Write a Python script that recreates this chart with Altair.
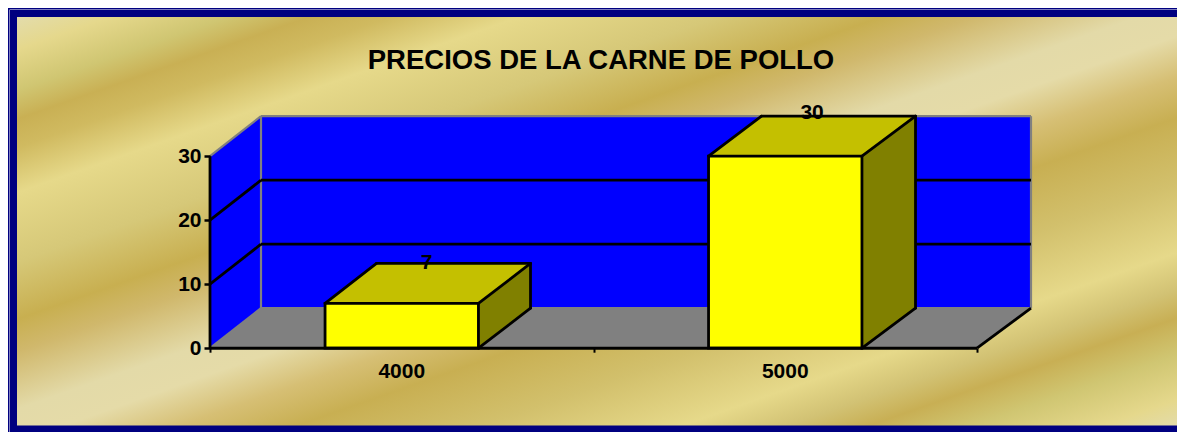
import altair as alt
import pandas as pd

# ---- values
TITLE = "PRECIOS DE LA CARNE DE POLLO"
CATEGORIES = ["4000", "5000"]
VALUES = [7, 30]
Y_TICKS = [0, 10, 20, 30]
X_BOUNDS = [0, 1, 2]

# ---- layout: one category = 383.5 px, one value unit = 6.4 px
W, H = 1169, 424
CAT_PX, UNIT_PX = 383.5, 6.4
LEFT_PX, ZERO_PX = 210.0, 348.2  # page pixels of category 0 / value 0
X_DOMAIN = [(8 - LEFT_PX) / CAT_PX, (8 + W - LEFT_PX) / CAT_PX]
Y_DOMAIN = [(ZERO_PX - (8 + H)) / UNIT_PX, (ZERO_PX - 8) / UNIT_PX]
DEPTH_V = 40 / UNIT_PX
BAR_HALF = 0.2
FONT = "Liberation Sans"
BLUE, GREY = "#0000FF", "#808080"
EDGE = 2.8


def dx(c):  # horizontal position of the back plane
    return (51 + 385 * c) / CAT_PX


def flat(c0, c1, v, group, fill):
    """horizontal parallelogram between front and back planes"""
    return [
        dict(x=c0, y=v, y2=v, g=group, fill=fill),
        dict(x=dx(c0), y=v + DEPTH_V, y2=v, g=group, fill=fill),
        dict(x=c1, y=v + DEPTH_V, y2=v, g=group, fill=fill),
        dict(x=dx(c1), y=v + DEPTH_V, y2=v + DEPTH_V, g=group, fill=fill),
    ]


def side(c, v0, v1, group, fill):
    """vertical slanted face running from the front plane to the back plane"""
    return [
        dict(x=c, y=v1, y2=v0, g=group, fill=fill),
        dict(x=dx(c), y=v1 + DEPTH_V, y2=v0 + DEPTH_V, g=group, fill=fill),
    ]


def seg(c0, v0, c1, v1):
    return dict(x=c0, y=v0, x2=c1, y2=v1)


top_v = max(Y_TICKS)
end_c = X_BOUNDS[-1]

# walls and floor
wall_rows = []
wall_rows += [
    dict(x=dx(0), y=top_v + DEPTH_V, y2=DEPTH_V, g="back", fill=BLUE),
    dict(x=dx(end_c), y=top_v + DEPTH_V, y2=DEPTH_V, g="back", fill=BLUE),
]
wall_rows += side(0, 0, top_v, "left", BLUE)
wall_rows += flat(0, end_c, 0, "floor", GREY)

grey_edges = [
    seg(0, top_v, dx(0), top_v + DEPTH_V),
    seg(dx(0), top_v + DEPTH_V, dx(end_c), top_v + DEPTH_V),
    seg(dx(end_c), top_v + DEPTH_V, dx(end_c), DEPTH_V),
    seg(dx(0), top_v + DEPTH_V, dx(0), DEPTH_V),
    seg(dx(0), DEPTH_V, dx(end_c), DEPTH_V),
    seg(0, 0, dx(0), DEPTH_V),
]

black_edges = [
    seg(0, 0, 0, top_v),
    seg(end_c, 0, dx(end_c), DEPTH_V),
]
for t in Y_TICKS[1:-1]:
    black_edges.append(seg(0, t, dx(0), t + DEPTH_V))
    black_edges.append(seg(dx(0), t + DEPTH_V, dx(end_c), t + DEPTH_V))

# bars
front_rows, face_rows, bar_edges, label_rows = [], [], [], []
for i, (cat, val) in enumerate(zip(CATEGORIES, VALUES)):
    mid = i + 0.5
    c0, c1 = mid - BAR_HALF, mid + BAR_HALF
    front_rows.append(dict(x=c0, x2=c1, y=val, y2=0))
    face_rows += flat(c0, c1, val, f"top{i}", "#C4C000")
    face_rows += side(c1, 0, val, f"side{i}", "#808000")
    bar_edges += [
        seg(c0, val, dx(c0), val + DEPTH_V),
        seg(dx(c0), val + DEPTH_V, dx(c1), val + DEPTH_V),
        seg(c1, val, dx(c1), val + DEPTH_V),
        seg(dx(c1), val + DEPTH_V, dx(c1), DEPTH_V),
        seg(c1, 0, dx(c1), DEPTH_V),
    ]
    lift = 0.45 if val == 30 else 0
    shift = 0.07 if val == 30 else 0.065
    label_rows.append(dict(x=mid + shift, y=val + DEPTH_V + lift, text=str(val)))

cat_rows = [dict(x=i + 0.5, y=-3.75, text=c) for i, c in enumerate(CATEGORIES)]
axis_rows = [seg(0, 0, end_c, 0)]

X_SCALE = alt.Scale(domain=X_DOMAIN, range=[0, W], nice=False, zero=False)
Y_SCALE = alt.Scale(domain=Y_DOMAIN, range=[H, 0], nice=False, zero=False)
X_AXIS = alt.Axis(
    values=X_BOUNDS, labels=False, domain=False, grid=False, ticks=True, tickSize=4,
    tickColor="#000000", tickWidth=2, offset=-(8 + H - ZERO_PX), zindex=1, orient="bottom",
)
Y_AXIS = alt.Axis(
    values=Y_TICKS, domain=False, grid=False, tickSize=6, tickColor="#000000", tickWidth=2.5,
    labelFont=FONT, labelFontSize=21, labelFontWeight="bold", labelColor="#000000",
    labelPadding=3, offset=-(LEFT_PX - 8), zindex=1, orient="left",
)


def ex():
    return alt.X("x:Q", scale=X_SCALE, title=None, axis=X_AXIS)


def ey():
    return alt.Y("y:Q", scale=Y_SCALE, title=None, axis=Y_AXIS)


def frame_rect(x0, y0, x1, y1, fill):
    return alt.Chart(pd.DataFrame({"k": [0]})).mark_rect(fill=fill).encode(
        x=alt.value(x0 - 8), x2=alt.value(x1 - 8), y=alt.value(y0 - 8), y2=alt.value(y1 - 8)
    )


GOLD = [
    (0.00, "#E3DCAC"), (0.04, "#E5D88C"), (0.09, "#D0C672"), (0.125, "#C9B054"),
    (0.16, "#D0BA60"), (0.215, "#E6D98A"), (0.30, "#D6C878"), (0.37, "#C8AF50"),
    (0.41, "#D0B86C"), (0.48, "#E3DAA8"), (0.52, "#E5DBA8"), (0.57, "#D6BF74"),
    (0.62, "#C8AF52"), (0.70, "#D2C06C"), (0.785, "#E6D98A"), (0.83, "#D2C274"),
    (0.865, "#C8AF54"), (0.91, "#D0C672"), (0.965, "#E5D88C"), (1.00, "#E3DCAC"),
]
gold_fill = alt.LinearGradient(
    gradient="linear", x1=0, y1=0, x2=1, y2=1,
    stops=[alt.GradientStop(offset=o, color=c) for o, c in GOLD],
)

background = [
    frame_rect(8, 8, 1185, 432, "#FFFFFF"),
    frame_rect(8, 8, 1185, 9.5, "#000080"),
    frame_rect(8, 8, 9.5, 432, "#000080"),
    frame_rect(10, 10, 1185, 432, "#000080"),
    frame_rect(17, 17, 1185, 425.5, gold_fill),
]

walls = alt.Chart(pd.DataFrame(wall_rows)).mark_area(orient="vertical", opacity=1).encode(
    x=ex(), y=ey(), y2="y2:Q", detail="g:N", fill=alt.Fill("fill:N", scale=None)
)
greys = alt.Chart(pd.DataFrame(grey_edges)).mark_rule(color=GREY, strokeWidth=2.2).encode(
    x=ex(), y=ey(), x2="x2:Q", y2="y2:Q"
)
blacks = alt.Chart(pd.DataFrame(black_edges)).mark_rule(color="#000000", strokeWidth=EDGE).encode(
    x=ex(), y=ey(), x2="x2:Q", y2="y2:Q"
)
faces = alt.Chart(pd.DataFrame(face_rows)).mark_area(orient="vertical", opacity=1).encode(
    x=ex(), y=ey(), y2="y2:Q", detail="g:N", fill=alt.Fill("fill:N", scale=None)
)
fronts = alt.Chart(pd.DataFrame(front_rows)).mark_rect(
    fill="#FFFF00", stroke="#000000", strokeWidth=EDGE
).encode(x=ex(), x2="x2:Q", y=ey(), y2="y2:Q")
edges = alt.Chart(pd.DataFrame(bar_edges)).mark_rule(
    color="#000000", strokeWidth=EDGE, strokeCap="round"
).encode(x=ex(), y=ey(), x2="x2:Q", y2="y2:Q")
axis_line = alt.Chart(pd.DataFrame(axis_rows)).mark_rule(color="#000000", strokeWidth=3).encode(
    x=ex(), y=ey(), x2="x2:Q", y2="y2:Q"
)
value_labels = alt.Chart(pd.DataFrame(label_rows)).mark_text(
    font=FONT, fontSize=21, fontWeight="bold", color="#000000", baseline="middle"
).encode(x=ex(), y=ey(), text="text:N")
cat_labels = alt.Chart(pd.DataFrame(cat_rows)).mark_text(
    font=FONT, fontSize=21, fontWeight="bold", color="#000000", baseline="middle"
).encode(x=ex(), y=ey(), text="text:N")

chart = alt.layer(
    *background, walls, greys, blacks, faces, fronts, edges, axis_line, value_labels, cat_labels
).properties(
    width=W, height=H, padding=0,
    autosize=alt.AutoSizeParams(type="none"),
    title=alt.TitleParams(
        text=TITLE, font=FONT, fontSize=27.5, fontWeight="bold", color="#000000",
        anchor="middle", offset=0, dx=601 - (8 + W / 2), dy=66,
    ),
).configure_view(strokeWidth=0)

chart.save("out.html", embed_options={"renderer": "svg", "actions": False})
